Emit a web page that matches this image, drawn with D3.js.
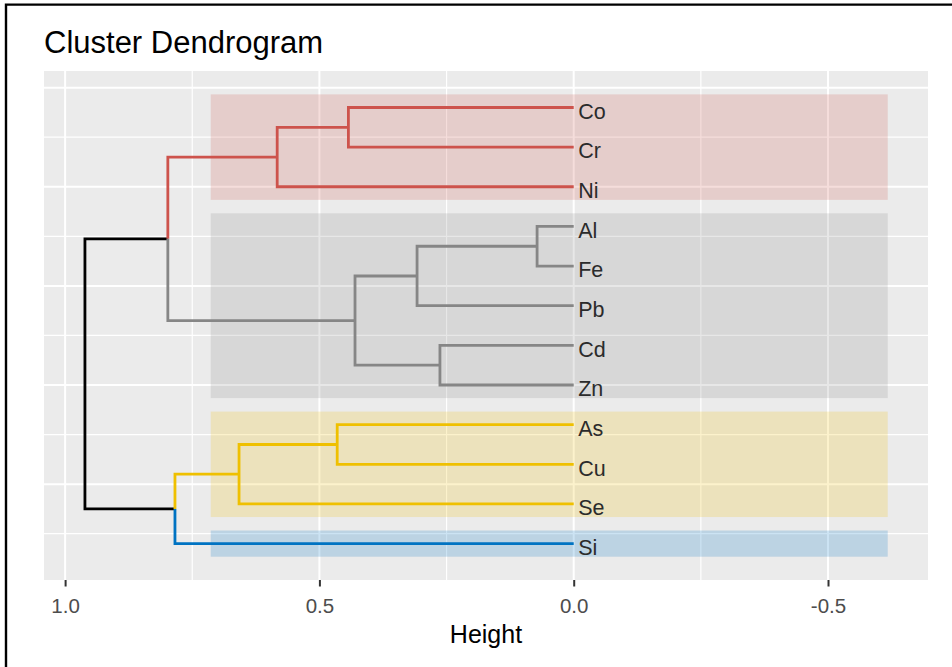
<!DOCTYPE html>
<html>
<head>
<meta charset="utf-8">
<script src="https://cdn.jsdelivr.net/npm/d3@7"></script>
<style>
  html, body { margin: 0; padding: 0; background: #fff; }
  svg { display: block; font-family: "Liberation Sans", Arial, sans-serif; }
</style>
</head>
<body>
<svg id="chart" width="952" height="667"></svg>
<script>
// Leaves, top to bottom
const leaves = ["Co", "Cr", "Ni", "Al", "Fe", "Pb", "Cd", "Zn", "As", "Cu", "Se", "Si"];

// Merge steps: [left, right, height]; numbers refer to earlier merges
const merges = [
  ["Al", "Fe", 0.072],
  ["Cd", "Zn", 0.263],
  [0, "Pb", 0.308],
  [2, 1, 0.430],
  ["Co", "Cr", 0.443],
  ["As", "Cu", 0.465],
  [4, "Ni", 0.583],
  [5, "Se", 0.658],
  [7, "Si", 0.784],
  [6, 3, 0.798],
  [9, 8, 0.961]
];

// Cluster membership (k = 4) and palette
const clusterColors = ["#CD534C", "#868686", "#EFC000", "#0073C2"];
const clusterMembers = [
  ["Co", "Cr", "Ni"],
  ["Al", "Fe", "Pb", "Cd", "Zn"],
  ["As", "Cu", "Se"],
  ["Si"]
];

const xTicks = [1.0, 0.5, 0.0, -0.5];
const xTickLabels = ["1.0", "0.5", "0.0", "-0.5"];
const xMinor = [0.75, 0.25, -0.25];
const yMajor = [2.5, 5, 7.5, 10, 12.5];
const yMinor = [1.25, 3.75, 6.25, 8.75, 11.25];

const title = "Cluster Dendrogram";
const xTitle = "Height";

// Cluster boxes extend from this height to the right edge
const rectHeights = [0.7137, -0.6174];
const rectPad = 0.33;

const svg = d3.select("#chart");

const panel = { left: 44, right: 928, top: 71, bottom: 580 };

const x = d3.scaleLinear().domain([1.0415, -0.6966]).range([panel.left, panel.right]);
const y = d3.scaleLinear().domain([0.082, 12.92]).range([panel.bottom, panel.top]);

// Outer frame (top and left edges)
svg.append("path")
  .attr("d", `M6,667V4.6H952`)
  .attr("fill", "none")
  .attr("stroke", "#000")
  .attr("stroke-width", 2.4);

// Title
svg.append("text")
  .attr("x", 44).attr("y", 53)
  .attr("font-size", 31)
  .attr("fill", "#000")
  .text(title);

// Panel background
svg.append("rect")
  .attr("x", panel.left).attr("y", panel.top)
  .attr("width", panel.right - panel.left)
  .attr("height", panel.bottom - panel.top)
  .attr("fill", "#EBEBEB");

const grid = svg.append("g");
xMinor.forEach(v => grid.append("line")
  .attr("x1", x(v)).attr("x2", x(v)).attr("y1", panel.top).attr("y2", panel.bottom)
  .attr("stroke", "#fff").attr("stroke-width", 1.2));
yMinor.forEach(v => grid.append("line")
  .attr("x1", panel.left).attr("x2", panel.right).attr("y1", y(v)).attr("y2", y(v))
  .attr("stroke", "#fff").attr("stroke-width", 1.2));
xTicks.forEach(v => grid.append("line")
  .attr("x1", x(v)).attr("x2", x(v)).attr("y1", panel.top).attr("y2", panel.bottom)
  .attr("stroke", "#fff").attr("stroke-width", 2));
yMajor.forEach(v => grid.append("line")
  .attr("x1", panel.left).attr("x2", panel.right).attr("y1", y(v)).attr("y2", y(v))
  .attr("stroke", "#fff").attr("stroke-width", 2));

// Build the tree
const n = leaves.length;
const leafPos = {};
leaves.forEach((name, i) => { leafPos[name] = n - i; });
const clusterOf = {};
clusterMembers.forEach((m, ci) => m.forEach(name => { clusterOf[name] = ci; }));

const built = [];
function toNode(ref) {
  return typeof ref === "number" ? built[ref] : { name: ref, height: 0, children: null };
}
merges.forEach(([a, b, h]) => {
  built.push({ name: null, height: h, children: [toNode(a), toNode(b)] });
});
const root = d3.hierarchy(built[built.length - 1]);

// Leaf positions; internal nodes sit midway between their children
root.eachAfter(node => {
  if (!node.children) {
    node.pos = leafPos[node.data.name];
    node.cluster = clusterOf[node.data.name];
  } else {
    node.pos = (node.children[0].pos + node.children[1].pos) / 2;
    const c = node.children.map(d => d.cluster);
    node.cluster = (c[0] !== -1 && c[0] === c[1]) ? c[0] : -1;
  }
});

// Cluster boxes
const boxes = svg.append("g");
clusterMembers.forEach((m, ci) => {
  const ps = m.map(name => leafPos[name]);
  const top = d3.max(ps) + rectPad, bottom = d3.min(ps) - rectPad;
  boxes.append("rect")
    .attr("x", x(rectHeights[0]))
    .attr("width", x(rectHeights[1]) - x(rectHeights[0]))
    .attr("y", y(top))
    .attr("height", y(bottom) - y(top))
    .attr("fill", clusterColors[ci])
    .attr("fill-opacity", 0.2);
});

// Branches. Each merge is a vertical at its height joining the two children,
// with horizontals out to them; a child's side takes its cluster colour.
const colorOf = d => d.cluster >= 0 ? clusterColors[d.cluster] : "#000";
const segments = [];
root.each(node => {
  if (!node.children) return;
  const [a, b] = node.children;
  const px = x(node.data.height), py = y(node.pos);
  const ca = colorOf(a), cb = colorOf(b);
  if (ca === cb) {
    segments.push({
      d: `M${x(a.data.height)},${y(a.pos)}H${px}V${y(b.pos)}H${x(b.data.height)}`,
      color: ca
    });
  } else {
    segments.push({ d: `M${px},${py}V${y(a.pos)}H${x(a.data.height)}`, color: ca });
    segments.push({ d: `M${px},${py}V${y(b.pos)}H${x(b.data.height)}`, color: cb });
  }
});

svg.append("g")
  .selectAll("path")
  .data(segments)
  .join("path")
  .attr("d", s => s.d)
  .attr("fill", "none")
  .attr("stroke", s => s.color)
  .attr("stroke-width", 2.8)
  .attr("stroke-linejoin", "miter")
  .attr("stroke-linecap", "butt");

// Leaf labels
svg.append("g")
  .selectAll("text")
  .data(root.leaves())
  .join("text")
  .attr("x", x(0) + 4.5)
  .attr("y", d => y(d.pos) + 11.3)
  .attr("font-size", 21.5)
  .attr("fill", "#2b2b2b")
  .text(d => d.data.name);

// X axis
const axis = svg.append("g").attr("transform", `translate(0,${panel.bottom})`)
  .call(d3.axisBottom(x).tickValues(xTicks)
    .tickFormat((d, i) => xTickLabels[i]).tickSize(6.5).tickPadding(0));
axis.select(".domain").remove();
axis.selectAll(".tick line").attr("stroke", "#333").attr("stroke-width", 2);
axis.selectAll(".tick text")
  .attr("font-family", "\"Liberation Sans\", Arial, sans-serif")
  .attr("font-size", 20.5)
  .attr("fill", "#4D4D4D")
  .attr("dy", null)
  .attr("y", 32.5);

svg.append("text")
  .attr("x", (panel.left + panel.right) / 2)
  .attr("y", 643)
  .attr("text-anchor", "middle")
  .attr("font-size", 25)
  .attr("fill", "#000")
  .text(xTitle);
</script>
</body>
</html>
